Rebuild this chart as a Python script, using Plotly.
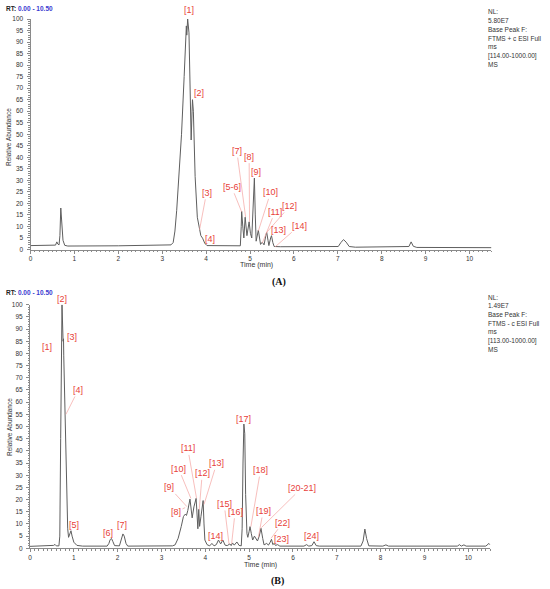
import plotly.graph_objects as go

W, H = 550, 589

# ---- data ----
# (A) positive mode
time_a = [0.00, 0.50, 0.57, 0.60, 0.62, 0.65, 0.67, 0.69, 0.71, 0.74, 0.78, 0.85, 2.00, 3.10,
          3.20, 3.25, 3.29, 3.33, 3.38, 3.44, 3.50, 3.53, 3.55, 3.56, 3.58, 3.61, 3.63, 3.65,
          3.66, 3.68, 3.69, 3.71, 3.73, 3.75, 3.80, 3.85, 3.88, 3.92, 3.97, 4.02, 4.78, 4.80,
          4.81, 4.84, 4.86, 4.89, 4.91, 4.93, 4.98, 5.01, 5.04, 5.07, 5.10, 5.12, 5.14, 5.19,
          5.22, 5.24, 5.28, 5.32, 5.36, 5.38, 5.41, 5.43, 5.47, 5.49, 5.52, 5.55, 5.70, 6.50,
          6.95, 7.01, 7.07, 7.13, 7.19, 7.26, 7.40, 8.55, 8.62, 8.67, 8.72, 8.80, 10.50]
abund_a = [1.7, 1.7, 1.9, 3.3, 2.4, 2.0, 6, 18, 12, 4, 1.8, 1.5, 1.6, 1.7,
           2.0, 3.0, 8, 17, 32, 50, 75, 95, 97, 93, 100, 94, 75, 57,
           47.5, 60, 65, 60, 45, 31.6, 14, 8.2, 6, 4.9, 2.7, 1.7, 1.6, 10,
           16.6, 9, 5, 14, 9, 6, 12, 7, 5, 18, 31, 15, 3.6, 8.4,
           4, 2.2, 3.2, 2, 6, 7.5, 4, 1.7, 5, 6, 3, 1.3, 1.2, 1.1,
           1.1, 1.3, 3, 4.3, 3.2, 1.3, 1.0, 1.0, 1.3, 3.3, 1.4, 0.9, 0.8]

# (B) negative mode
time_b = [0.00, 0.50, 0.54, 0.57, 0.60, 0.66, 0.68, 0.70, 0.73, 0.755, 0.765, 0.77, 0.79, 0.81,
          0.84, 0.86, 0.88, 0.91, 0.935, 0.96, 1.00, 1.07, 1.20, 1.76, 1.80, 1.83, 1.86, 1.89,
          1.93, 2.04, 2.08, 2.12, 2.15, 2.19, 2.23, 3.25, 3.31, 3.38, 3.45, 3.50, 3.54, 3.57,
          3.60, 3.65, 3.70, 3.74, 3.79, 3.81, 3.83, 3.85, 3.87, 3.90, 3.95, 3.97, 3.99, 4.04,
          4.10, 4.15, 4.20, 4.25, 4.30, 4.35, 4.40, 4.45, 4.50, 4.56, 4.59, 4.62, 4.66, 4.72,
          4.77, 4.82, 4.84, 4.86, 4.88, 4.90, 4.92, 4.95, 4.97, 5.00, 5.02, 5.05, 5.08, 5.12,
          5.16, 5.19, 5.23, 5.27, 5.31, 5.34, 5.40, 5.44, 5.48, 5.51, 5.54, 5.57, 5.60, 5.65,
          5.70, 6.25, 6.31, 6.36, 6.43, 6.48, 6.53, 6.60, 7.55, 7.60, 7.64, 7.68, 7.73, 8.05,
          8.12, 8.18, 9.75, 9.80, 9.84, 9.90, 9.95, 10.40, 10.47, 10.50]
abund_b = [0.8, 0.9, 1.2, 1.6, 1.0, 1.0, 5, 45, 100, 85, 86, 79, 62, 44,
           20, 8, 4.5, 6, 7.2, 5, 2.5, 1.2, 0.9, 0.9, 2, 3.6, 4, 2.8,
           1.1, 1.0, 3.5, 5.9, 5, 2, 0.9, 1.0, 1.4, 4.1, 8.9, 13, 14, 13.5,
           15.5, 20.2, 12.5, 17, 20.5, 15, 8, 16, 9, 13, 19.6, 10, 3.4, 1.5,
           1.0, 2, 1.0, 1.5, 3.4, 1.8, 3.4, 1.3, 1.1, 1.8, 1.1, 2.2, 1.3, 2.6,
           1.2, 1.0, 8, 35, 51, 47, 22, 6, 4.5, 7, 8.9, 6, 3.4, 5,
           4.1, 3, 5, 8.2, 4, 1.4, 2, 1.3, 2.5, 3.7, 1.5, 2, 1.2, 1.5,
           0.9, 0.9, 1.5, 0.9, 1.1, 2.7, 1.1, 0.9, 0.9, 3, 7.9, 4, 1.0, 0.9,
           1.4, 0.9, 0.9, 1.5, 0.9, 1.4, 0.9, 0.9, 2, 1.4]

# peak labels
labels_a = ["[1]", "[2]", "[3]", "[4]", "[5-6]", "[7]", "[8]", "[9]", "[10]", "[11]", "[12]", "[13]", "[14]"]
labels_b = ["[1]", "[2]", "[3]", "[4]", "[5]", "[6]", "[7]", "[8]", "[9]", "[10]", "[11]", "[12]",
            "[13]", "[14]", "[15]", "[16]", "[17]", "[18]", "[19]", "[20-21]", "[22]", "[23]", "[24]"]

info_a = ["NL:", "5.80E7", "Base Peak F:", "FTMS + c ESI Full", "ms", "[114.00-1000.00]", "MS"]
info_b = ["NL:", "1.49E7", "Base Peak F:", "FTMS - c ESI Full", "ms", "[113.00-1000.00]", "MS"]

y_ticks = list(range(0, 101, 5))
x_ticks = list(range(0, 11))

# label placement: (text x, text y, leader end x, leader end y) in data units, None = no leader
pos_a = [(3.61, 104, None, None), (3.84, 68, None, None), (4.01, 24.6, 3.85, 8.5),
         (4.10, 4.7, None, None), (4.58, 27.2, 4.81, 16.3), (4.70, 42.7, 4.90, 14.1),
         (4.98, 40.3, 4.99, 12), (5.13, 33.8, None, None), (5.47, 24.8, 5.19, 8),
         (5.57, 16.4, 5.28, 2.8), (5.91, 18.9, 5.37, 7.2), (5.66, 8.5, None, None),
         (6.12, 10.3, 5.57, 1.1)]
pos_b = [(0.38, 82.8, None, None), (0.74, 102.2, None, None), (0.95, 86.9, None, None),
         (1.10, 65, 0.82, 55), (1.00, 9.6, None, None), (1.77, 6.2, None, None),
         (2.11, 9.4, None, None), (3.33, 14.9, 3.54, 16.7), (3.18, 25, 3.58, 17.1),
         (3.39, 32.7, 3.67, 20.5), (3.60, 41, 3.80, 20.5), (3.93, 30.8, 3.86, 15.7),
         (4.26, 34.9, 3.97, 18), (4.24, 5.0, None, None), (4.43, 18.2, 4.54, 1.8),
         (4.68, 15, 4.60, 1.8), (4.88, 53, None, None), (5.26, 32.1, 5.04, 8.9),
         (5.32, 15.3, 5.21, 4.5), (6.20, 24.8, 5.28, 8.5), (5.77, 10.5, 5.50, 4.1),
         (5.74, 3.7, None, None), (6.43, 5.2, None, None)]

RED = "#e8403a"
LEAD = "#f3a3a0"
TRACE = "#5e5e5e"
FONT = "Liberation Sans, Arial, sans-serif"

# plot boxes in pixels: x of t=0, px per minute, y of 0 %, y of 100 %
BOX_A = (30.5, 43.9, 249.5, 19.0)
BOX_B = (30.0, 43.83, 548.3, 304.7)


def px(x):
    return x / W


def py(y):
    return 1 - y / H


def to_paper(box, t, v):
    x0, k, yb, yt = box
    return px(x0 + t * k), py(yb - v / 100 * (yb - yt))


fig = go.Figure()
fig.add_trace(go.Scatter(x=time_a, y=abund_a, mode="lines", line=dict(color=TRACE, width=1),
                         xaxis="x", yaxis="y", hoverinfo="skip"))
fig.add_trace(go.Scatter(x=time_b, y=abund_b, mode="lines", line=dict(color=TRACE, width=1),
                         xaxis="x2", yaxis="y2", hoverinfo="skip"))

axis_common = dict(showgrid=False, zeroline=False, showline=True, linecolor="#8a8a8a", linewidth=1,
                   ticks="outside", tickcolor="#8a8a8a", ticklen=3, tickwidth=1, automargin=False,
                   tickfont=dict(family=FONT, size=6.5, color="#333"))
xa = dict(axis_common, range=[0, 10.5], tickvals=x_ticks,
          minor=dict(dtick=0.1, ticks="outside", ticklen=1.5, tickcolor="#8a8a8a", tick0=0))
ya = dict(axis_common, range=[0, 100], tickvals=y_ticks, ticklabelstandoff=2,
          minor=dict(dtick=1, ticks="outside", ticklen=1.5, tickcolor="#8a8a8a", tick0=0))


def dom(box):
    x0, k, yb, yt = box
    return [px(x0), px(x0 + 10.5 * k)], [py(yb), py(yt)]


dxa, dya = dom(BOX_A)
dxb, dyb = dom(BOX_B)
fig.update_layout(
    width=W, height=H, margin=dict(l=0, r=0, t=0, b=0, autoexpand=False),
    paper_bgcolor="white", plot_bgcolor="white", showlegend=False, hovermode=False,
    xaxis=dict(xa, domain=dxa, anchor="y"),
    yaxis=dict(ya, domain=dya, anchor="x"),
    xaxis2=dict(xa, domain=dxb, anchor="y2"),
    yaxis2=dict(ya, domain=dyb, anchor="x2"),
)


def note(text, x, y, size, color="#333", xanchor="center", family=FONT, **kw):
    return dict(text=text, x=x, y=y, xref="paper", yref="paper", xanchor=xanchor, yanchor="middle",
                showarrow=False, font=dict(family=family, size=size, color=color), **kw)


ann = []
for (lab, p), xr, yr, box in [(z, "x", "y", BOX_A) for z in zip(labels_a, pos_a)] + \
                             [(z, "x2", "y2", BOX_B) for z in zip(labels_b, pos_b)]:
    tx, ty, ex, ey = p
    if ex is None:
        xp, yp = to_paper(box, tx, ty)
        ann.append(note(lab, xp, yp, 9, RED))
    else:
        ann.append(dict(text=lab, x=ex, y=ey, ax=tx, ay=ty, xref=xr, yref=yr, axref=xr, ayref=yr,
                        showarrow=True, arrowhead=0, arrowwidth=0.7, arrowcolor=LEAD, standoff=0,
                        font=dict(family=FONT, size=9, color=RED)))

# header / axis titles / panel letters
for top, info in [(0, info_a), (285, info_b)]:
    ann.append(note("<b>RT:</b> <b><span style='color:#3a3ad0'>0.00 - 10.50</span></b>",
                    px(4), py(top + 8), 6.5, "#222", xanchor="left"))
    for i, line in enumerate(info):
        ann.append(note(line, px(486), py(top + 12 + i * 8.7), 6.5, xanchor="left"))

for ycen in [137, 427]:
    ann.append(note("Relative Abundance", px(9), py(ycen), 6.5, textangle=-90))
for xc, yc in [(256, 265), (260, 565)]:
    ann.append(note("Time (min)", px(xc), py(yc), 7))
for txt, xc, yc in [("(A)", 279, 282), ("(B)", 277, 581)]:
    ann.append(note("<b>" + txt + "</b>", px(xc), py(yc), 10, "#111",
                    family="Liberation Serif, Times New Roman, serif"))

fig.update_layout(annotations=ann)
# the page body has a default 8px margin; drop it so the figure fills the window
fig.write_html("out.html", config={"displayModeBar": False},
               post_script="document.body.style.margin='0';")
